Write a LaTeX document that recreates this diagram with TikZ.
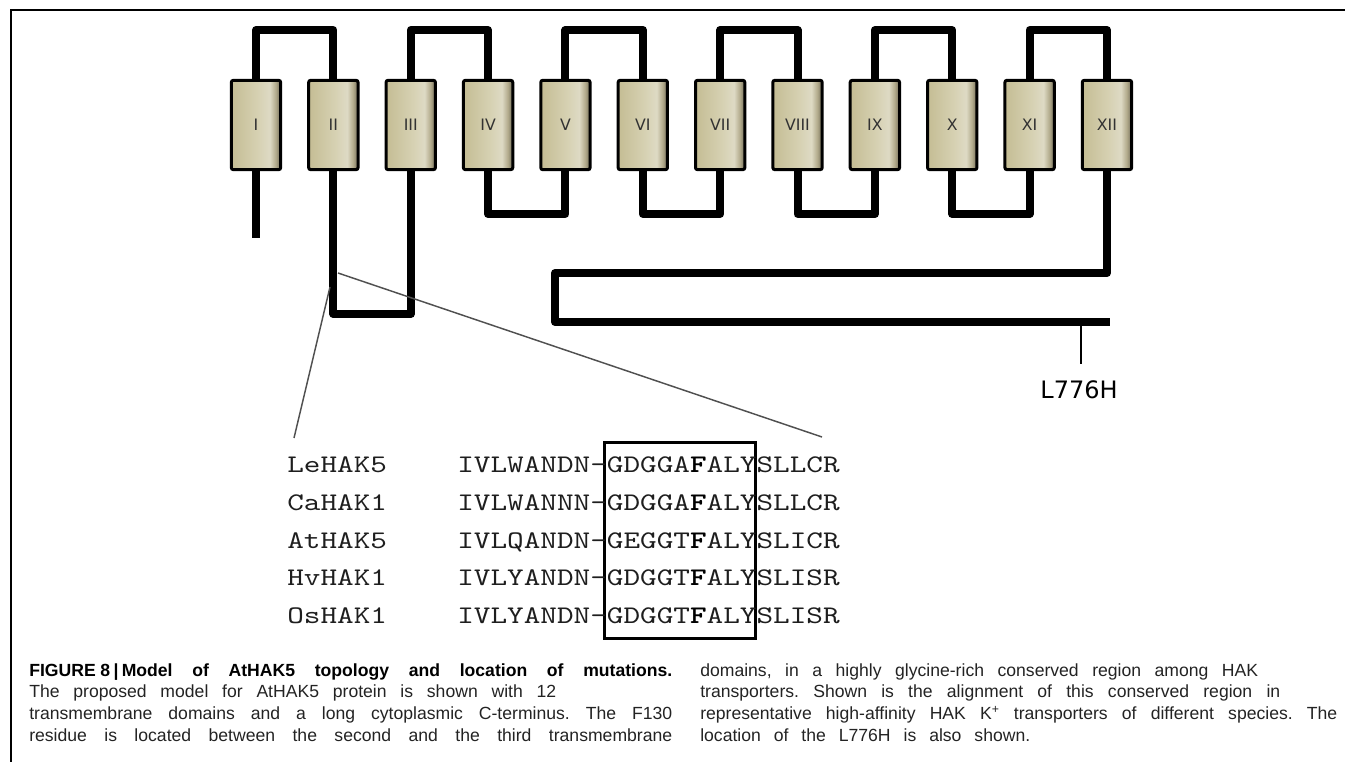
\documentclass[tikz,border=0pt]{standalone}
\usepackage{fontspec}
\usetikzlibrary{backgrounds}
\newfontfamily\capfont{Liberation Sans}
\newfontfamily\numfont{DejaVu Sans}
\newfontfamily\seqfont{lmmono10-regular.otf}[BoldFont=lmmonolt10-bold.otf, FakeStretch=1.25]
\definecolor{numgray}{RGB}{50,50,50}
\definecolor{capgray}{RGB}{35,35,35}
\definecolor{seqgray}{RGB}{30,30,30}
\definecolor{zoomgray}{RGB}{80,80,80}
\pgfdeclarehorizontalshading{tmshade}{100bp}{%
  rgb(0bp)=(0.77,0.74,0.58);
  rgb(25bp)=(0.77,0.74,0.58);
  rgb(52bp)=(0.84,0.82,0.70);
  rgb(64bp)=(0.87,0.855,0.77);
  rgb(70bp)=(0.70,0.67,0.55);
  rgb(75bp)=(0.45,0.43,0.35);
  rgb(100bp)=(0.45,0.43,0.35)}
\tikzset{
  tmbox/.style={draw=black, line width=2.25pt, rounded corners=1.5pt,
    shading=tmshade, minimum width=37pt, minimum height=67pt, inner sep=0pt,
    font=\numfont\fontsize{11.8pt}{13pt}\selectfont, text=numgray},
  strand/.style={line width=6pt, line join=round, line cap=butt},
  zoomline/.style={draw=zoomgray, line width=1.1pt},
  ticklin/.style={line width=1.5pt},
  seqtxt/.style={font=\seqfont\fontsize{19pt}{21pt}\selectfont, text=seqgray,
    inner sep=0pt, anchor=base west},
  captxt/.style={font=\capfont\frenchspacing\fontsize{13.2pt}{15pt}\selectfont, text=capgray,
    inner sep=0pt, anchor=base west},
  consbox/.style={draw=black, line width=2.25pt, minimum width=113.25pt,
    minimum height=147pt, inner sep=0pt},
  frameline/.style={line width=0.9pt}
}
\begin{document}
\begin{tikzpicture}[x=0.75pt,y=-0.75pt]
\useasboundingbox (0,0) rectangle (1345,762);
% frame
\coordinate (fa) at (11,10);
\coordinate (fb) at (1345,10);
\coordinate (fc) at (11,762);
\draw[frameline] (fb) -- (fa) -- (fc);

% transmembrane boxes
\foreach \r [count=\i] in {I,II,III,IV,V,VI,VII,VIII,IX,X,XI,XII}{
  \node[tmbox] (tm\i) at ({256+77.36*(\i-1)},125) {\r};
}
\coordinate (top) at (0,30);
\coordinate (bot) at (0,214);
\coordinate (bot2) at (0,314);
\coordinate (nend) at (256,238);
\coordinate (ct1) at (555,273);
\coordinate (cend) at (1110,322);

\begin{pgfonlayer}{background}
\draw[strand] (tm1.south) -- (nend);
\foreach \a/\b in {1/2,3/4,5/6,7/8,9/10,11/12}{
  \draw[strand] (tm\a.north) -- (tm\a.north |- top) -- (tm\b.north |- top) -- (tm\b.north);
}
\foreach \a/\b in {4/5,6/7,8/9,10/11}{
  \draw[strand] (tm\a.south) -- (tm\a.south |- bot) -- (tm\b.south |- bot) -- (tm\b.south);
}
\draw[strand] (tm2.south) -- (tm2.south |- bot2) -- (tm3.south |- bot2) -- (tm3.south);
\draw[strand] (tm12.south) |- (ct1) |- (cend);
\end{pgfonlayer}

% mutation L776H
\coordinate (tkA) at (1081,326);
\coordinate (tkB) at (1081,364);
\draw[ticklin] (tkA) -- (tkB);
\node[font=\numfont\fontsize{18pt}{20pt}\selectfont, inner sep=0pt] (mut) at (1079,390) {L776H};

% zoom lines
\coordinate (zla) at (330,287);
\coordinate (zlb) at (294,438);
\coordinate (zra) at (338,273);
\coordinate (zrb) at (822,437);
\draw[zoomline] (zla) -- (zlb);
\draw[zoomline] (zra) -- (zrb);

% alignment
\node[consbox] (cons) at (680,540.5) {};
\node[seqtxt] (n1) at (287,473) {LeHAK5};
\node[seqtxt] (n2) at (287,510.5) {CaHAK1};
\node[seqtxt] (n3) at (287,548) {AtHAK5};
\node[seqtxt] (n4) at (287,585.5) {HvHAK1};
\node[seqtxt] (n5) at (287,623) {OsHAK1};
\node[seqtxt] (s1) at (457,473) {IVLWANDN-GDGGA{\bfseries\color{black}F}ALYSLLCR};
\node[seqtxt] (s2) at (457,510.5) {IVLWANNN-GDGGA{\bfseries\color{black}F}ALYSLLCR};
\node[seqtxt] (s3) at (457,548) {IVLQANDN-GEGGT{\bfseries\color{black}F}ALYSLICR};
\node[seqtxt] (s4) at (457,585.5) {IVLYANDN-GDGGT{\bfseries\color{black}F}ALYSLISR};
\node[seqtxt] (s5) at (457,623) {IVLYANDN-GDGGT{\bfseries\color{black}F}ALYSLISR};

% caption
\node[captxt] (c1) at (29,676) {\makebox[482.25pt][s]{\bfseries\color{black}FIGURE\hspace{3.5pt}8\hspace{2.5pt}|\hspace{2.5pt}Model of AtHAK5 topology and location of mutations.}};
\node[captxt] (c2) at (29,697.7) {\makebox[395.25pt][s]{The proposed model for AtHAK5 protein is shown with 12}};
\node[captxt] (c3) at (29,719.3) {\makebox[482.25pt][s]{transmembrane domains and a long cytoplasmic C-terminus. The F130}};
\node[captxt] (c4) at (29,741) {\makebox[482.25pt][s]{residue is located between the second and the third transmembrane}};
\node[captxt] (r1) at (700,676) {\makebox[418.5pt][s]{domains, in a highly glycine-rich conserved region among HAK}};
\node[captxt] (r2) at (700,697.7) {\makebox[435pt][s]{transporters. Shown is the alignment of this conserved region in}};
\node[captxt] (r3) at (700,719.3) {\makebox[477.75pt][s]{representative high-affinity HAK K\textsuperscript{+} transporters of different species. The}};
\node[captxt] (r4) at (700,741) {\makebox[247.5pt][s]{location of the L776H is also shown.}};
\end{tikzpicture}
\end{document}
